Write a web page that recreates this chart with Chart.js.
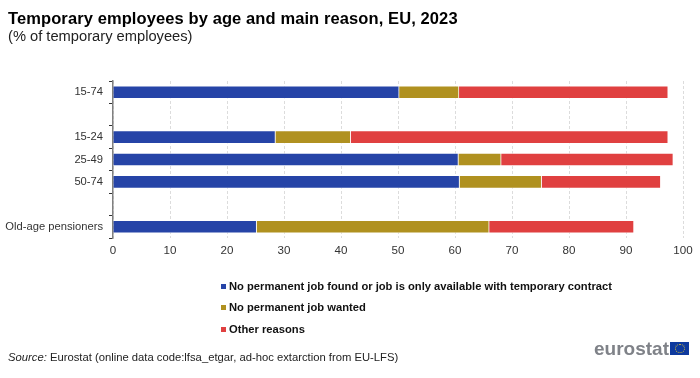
<!DOCTYPE html>
<html>
<head>
<meta charset="utf-8">
<title>Temporary employees by age and main reason, EU, 2023</title>
<script src="https://cdn.jsdelivr.net/npm/chart.js@4"></script>
<style>
  html, body { margin: 0; padding: 0; background: #fff; }
  #wrap { position: relative; width: 700px; height: 378px; overflow: hidden; font-family: "Liberation Sans", Arial, sans-serif; }
  #chart { position: absolute; left: 0; top: 0; }
  #title { position: absolute; left: 8px; top: 9px; font-size: 16.5px; font-weight: bold; color: #000; letter-spacing: 0.1px; white-space: nowrap; }
  #subtitle { position: absolute; left: 8px; top: 28px; font-size: 14.7px; color: #222; white-space: nowrap; }
  #legend { position: absolute; left: 221px; top: 278px; font-size: 11.2px; font-weight: bold; color: #111; }
  #legend div { position: relative; height: 21.4px; line-height: 16px; padding-left: 8px; white-space: nowrap; }
  #legend i { position: absolute; left: 0; top: 6px; width: 5px; height: 5px; }
  #source { position: absolute; left: 8px; top: 351px; font-size: 11.25px; color: #222; white-space: nowrap; }
  #logo { position: absolute; left: 594px; top: 338px; font-size: 19px; font-weight: bold; color: #7f8288; white-space: nowrap; }
  #flag { position: absolute; left: 670px; top: 342px; width: 19px; height: 13px; background: #0e3a9e; }
  #flag b { position: absolute; left: 4.5px; top: 2px; width: 8px; height: 7px; border: 1px dotted #d9c23a; border-radius: 50%; }
</style>
</head>
<body>
<div id="wrap">
  <canvas id="chart" width="700" height="378"></canvas>
  <div id="title">Temporary employees by age and main reason, EU, 2023</div>
  <div id="subtitle">(% of temporary employees)</div>
  <div id="legend"></div>
  <div id="source"><em>Source:</em> Eurostat (online data code:lfsa_etgar, ad-hoc extarction from EU-LFS)</div>
  <div id="logo">eurostat</div>
  <div id="flag"><b></b></div>
</div>
<script>
const categories = ['15-74', '', '15-24', '25-49', '50-74', ' ', 'Old-age pensioners'];
const noJobFound = [50.2, null, 28.5, 60.6, 60.8, null, 25.2];
const noJobWanted = [10.5, null, 13.2, 7.5, 14.4, null, 40.8];
const otherReasons = [36.7, null, 55.7, 30.2, 20.9, null, 25.4];
const seriesNames = ['No permanent job found or job is only available with temporary contract', 'No permanent job wanted', 'Other reasons'];
const seriesColors = ['#2644A7', '#B09120', '#E04040'];

const datasets = [noJobFound, noJobWanted, otherReasons].map((values, i) => ({
    label: seriesNames[i],
    data: values,
    backgroundColor: seriesColors[i],
    borderColor: 'rgba(255, 255, 255, 0.6)',
    borderWidth: 1,
    barThickness: 13
}));

// legend is plain html, the chart one can't stack vertically at the bottom
const legend = document.getElementById('legend');
seriesNames.forEach((name, i) => {
    const row = document.createElement('div');
    row.innerHTML = '<i style="background:' + seriesColors[i] + '"></i>' + name;
    legend.appendChild(row);
});

new Chart(document.getElementById('chart').getContext('2d'), {
    type: 'bar',
    data: { labels: categories, datasets: datasets },
    options: {
        indexAxis: 'y',
        responsive: false,
        animation: false,
        layout: { padding: { top: 81, right: 17, bottom: 118, left: 0 } },
        plugins: { legend: { display: false }, title: { display: false }, tooltip: { enabled: false } },
        scales: {
            x: {
                stacked: true,
                min: 0,
                max: 100,
                afterFit: scale => { scale.height = 22; },
                border: { display: false, dash: [3, 2] },
                grid: { color: '#dcdcdc', drawTicks: false, lineWidth: 1 },
                ticks: { stepSize: 10, maxRotation: 0, padding: 6, color: '#333', font: { family: 'Liberation Sans', size: 11.6 } }
            },
            y: {
                stacked: true,
                afterFit: scale => { scale.width = 113; },
                border: { color: '#808080', width: 1.5 },
                grid: { drawOnChartArea: false, color: '#333', tickLength: 4 },
                ticks: { autoSkip: false, padding: 6, color: '#333', font: { family: 'Liberation Sans', size: 11.2 } }
            }
        }
    }
});
</script>
</body>
</html>
